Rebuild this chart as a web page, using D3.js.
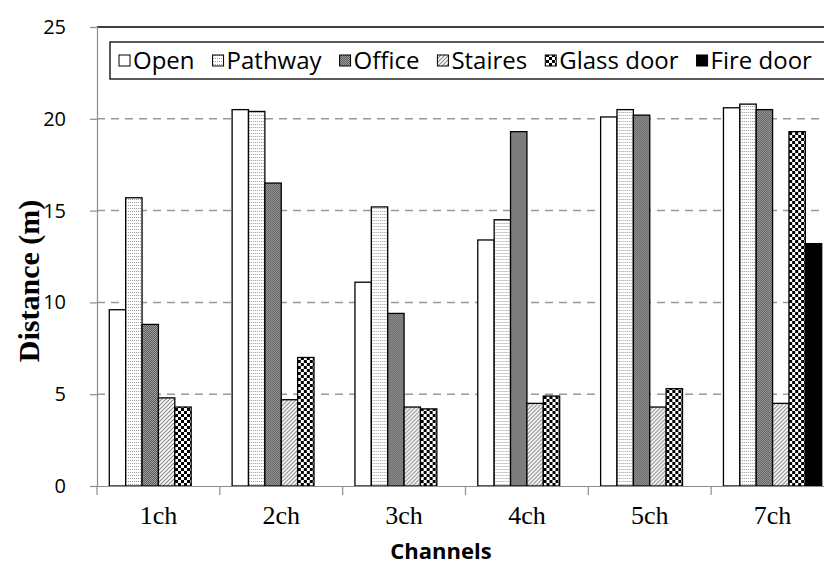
<!DOCTYPE html>
<html><head><meta charset="utf-8">
<script src="https://cdn.jsdelivr.net/npm/d3@7"></script>
<style>
html,body{margin:0;padding:0;background:#fff;}
svg{display:block;}
</style></head>
<body>
<svg id="chart" width="824" height="565"></svg>
<script>
const categories = ["1ch","2ch","3ch","4ch","5ch","7ch"];
const seriesNames = ["Open","Pathway","Office","Staires","Glass door","Fire door"];
const openVals    = [9.6, 20.5, 11.1, 13.4, 20.1, 20.6];
const pathwayVals = [15.7, 20.4, 15.2, 14.5, 20.5, 20.8];
const officeVals  = [8.8, 16.5, 9.4, 19.3, 20.2, 20.5];
const stairesVals = [4.8, 4.7, 4.3, 4.5, 4.3, 4.5];
const glassVals   = [4.3, 7.0, 4.2, 4.9, 5.3, 19.3];
const fireVals    = [0, 0, 0, 0, 0, 13.2];
const yTicks = [0, 5, 10, 15, 20, 25];

const seriesValues = [openVals, pathwayVals, officeVals, stairesVals, glassVals, fireVals];
const fills = ["#fff","url(#pPath)","url(#pOffice)","url(#pStairs)","url(#pGlass)","#000"];

const svg = d3.select("#chart");
const defs = svg.append("defs");

// Pathway: light dotted
let p = defs.append("pattern").attr("id","pPath").attr("patternUnits","userSpaceOnUse").attr("width",2).attr("height",3);
p.append("rect").attr("width",2).attr("height",3).attr("fill","#fff");
p.append("rect").attr("x",1).attr("y",1).attr("width",1).attr("height",1).attr("fill","#9a9a9a");
// Office: dark grey fine texture
p = defs.append("pattern").attr("id","pOffice").attr("patternUnits","userSpaceOnUse").attr("width",2).attr("height",2);
p.append("rect").attr("width",2).attr("height",2).attr("fill","#9c9c9c");
p.append("rect").attr("width",1).attr("height",1).attr("fill","#5e5e5e");
p.append("rect").attr("x",1).attr("y",1).attr("width",1).attr("height",1).attr("fill","#5e5e5e");
// Staires: diagonal hatch
p = defs.append("pattern").attr("id","pStairs").attr("patternUnits","userSpaceOnUse").attr("width",4).attr("height",4);
p.append("rect").attr("width",4).attr("height",4).attr("fill","#fff");
p.append("path").attr("d","M-1,1 L1,-1 M0,4 L4,0 M3,5 L5,3").attr("stroke","#8a8a8a").attr("stroke-width",1.2);
// Glass door: checkerboard
p = defs.append("pattern").attr("id","pGlass").attr("patternUnits","userSpaceOnUse").attr("width",6).attr("height",6);
p.append("rect").attr("width",6).attr("height",6).attr("fill","#fff");
p.append("rect").attr("width",3).attr("height",3).attr("fill","#000");
p.append("rect").attr("x",3).attr("y",3).attr("width",3).attr("height",3).attr("fill","#000");

const plotLeft = 97, plotRight = 834, plotTop = 27, plotBottom = 486;

const x0 = d3.scaleBand().domain(categories).range([plotLeft, plotRight]).padding(0);
const bw = x0.bandwidth();
const x1 = d3.scaleBand().domain(seriesNames).range([bw*0.1, bw*0.9]).padding(0);
const y = d3.scaleLinear().domain([0, 25]).range([plotBottom, plotTop]);

// gridlines
svg.append("g").selectAll("line").data(yTicks.filter(t => t > 0 && t < 25)).join("line")
  .attr("x1", plotLeft).attr("x2", plotRight)
  .attr("y1", d => y(d)).attr("y2", d => y(d))
  .attr("stroke","#999").attr("stroke-width",1.5).attr("stroke-dasharray","8,6");
// top border line at 25
svg.append("line").attr("x1", plotLeft).attr("x2", plotRight).attr("y1", y(25)).attr("y2", y(25))
  .attr("stroke","#000").attr("stroke-width",1.3);

// bars
const groups = svg.append("g").selectAll("g").data(categories).join("g")
  .attr("transform", c => `translate(${x0(c)},0)`);
groups.selectAll("rect").data((c, i) => seriesNames.map((s, k) => ({s, k, v: seriesValues[k][i]})).filter(d => d.v > 0))
  .join("rect")
  .attr("x", d => x1(d.s))
  .attr("width", x1.bandwidth())
  .attr("y", d => y(d.v))
  .attr("height", d => y(0) - y(d.v))
  .attr("fill", d => fills[d.k])
  .attr("stroke", "#000").attr("stroke-width", 1.3);

// y axis
const yAxis = d3.axisLeft(y).tickValues(yTicks).tickSize(7).tickPadding(24).tickFormat(d3.format("d"));
const ya = svg.append("g").attr("transform", `translate(${plotLeft},0)`).call(yAxis);
ya.select(".domain").attr("stroke","#8c8c8c").attr("stroke-width",1.2);
ya.selectAll(".tick line").attr("stroke","#8c8c8c").attr("stroke-width",1.2);
ya.selectAll(".tick text").attr("font-family","'Open Sans', sans-serif").attr("font-size",20).attr("fill","#000");

// x axis
const xAxis = d3.axisBottom(x0).tickSize(0).tickPadding(20);
const xa = svg.append("g").attr("transform", `translate(0,${plotBottom})`).call(xAxis);
xa.select(".domain").attr("stroke","#8c8c8c").attr("stroke-width",1.2);
xa.selectAll(".tick text").attr("font-family","'Liberation Serif', 'Times New Roman', serif").attr("font-size",26).attr("fill","#000");
// category boundary ticks
xa.append("g").selectAll("line").data(categories).join("line")
  .attr("x1", c => x0(c)).attr("x2", c => x0(c)).attr("y1", 0).attr("y2", 9)
  .attr("stroke","#8c8c8c").attr("stroke-width",1.2);

// axis titles
svg.append("text").attr("transform", `translate(39,281) rotate(-90)`)
  .attr("text-anchor","middle").attr("font-family","'Liberation Serif', 'Times New Roman', serif")
  .attr("font-weight","bold").attr("font-size",30).text("Distance (m)");
svg.append("text").attr("x", 441).attr("y", 559).attr("text-anchor","middle")
  .attr("font-family","'Open Sans', sans-serif").attr("font-weight","bold").attr("font-size",22).text("Channels");

// legend
const lg = svg.append("g");
lg.append("rect").attr("x",110).attr("y",42).attr("width",740).attr("height",37)
  .attr("fill","#fff").attr("stroke","#000").attr("stroke-width",1.3);
let cx = 119;
seriesNames.forEach((s, k) => {
  lg.append("rect").attr("x", cx).attr("y", 55).attr("width", 11).attr("height", 11)
    .attr("fill", fills[k]).attr("stroke","#000").attr("stroke-width",1);
  const t = lg.append("text").attr("x", cx + 14).attr("y", 69)
    .attr("font-family","'Open Sans', sans-serif").attr("font-size",24).text(s);
  cx += 14 + t.node().getComputedTextLength() + 18;
});
</script>
</body></html>
